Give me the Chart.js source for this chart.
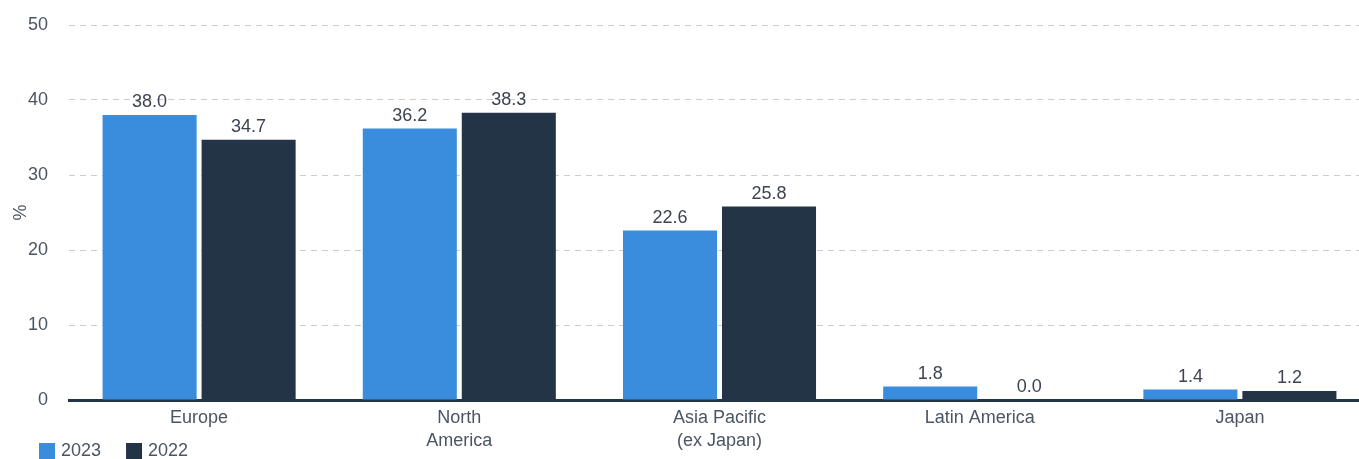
<!DOCTYPE html>
<html>
<head>
<meta charset="utf-8">
<script src="https://cdn.jsdelivr.net/npm/chart.js@4"></script>
<style>
  html, body { margin: 0; padding: 0; background: #fff; overflow: hidden; }
  #wrap { width: 1370px; height: 459px; position: relative; }
</style>
</head>
<body>
<div id="wrap"><canvas id="grafico"></canvas></div>
<script>
const categorias = [['Europe'], ['North', 'America'], ['Asia Pacific', '(ex Japan)'], ['Latin America'], ['Japan']];
const valores2023 = [38.0, 36.2, 22.6, 1.8, 1.4];
const valores2022 = [34.7, 38.3, 25.8, 0.0, 1.2];
const series = ['2023', '2022'];
const colores = ['#3a8ddd', '#243447'];
const colorTexto = '#4b5563';
const fuente = "'Liberation Sans', Arial, sans-serif";

// Etiquetas de valor encima de cada barra
const etiquetasValor = {
  id: 'etiquetasValor',
  afterDatasetsDraw(chart) {
    const ctx = chart.ctx;
    ctx.save();
    ctx.font = '18px ' + fuente;
    ctx.fillStyle = '#3d4451';
    ctx.textAlign = 'center';
    ctx.textBaseline = 'alphabetic';
    chart.data.datasets.forEach((ds, i) => {
      chart.getDatasetMeta(i).data.forEach((barra, j) => {
        ctx.fillText(ds.data[j].toFixed(1), barra.x, barra.y - 8);
      });
    });
    ctx.restore();
  }
};

// Leyenda propia abajo a la izquierda
const leyenda = {
  id: 'leyenda',
  afterDraw(chart) {
    const ctx = chart.ctx;
    ctx.save();
    ctx.font = '18px ' + fuente;
    ctx.textBaseline = 'middle';
    let x = 39;
    const y = chart.height - 8;
    chart.data.datasets.forEach((ds) => {
      ctx.fillStyle = ds.backgroundColor;
      ctx.fillRect(x, y - 8, 16, 16);
      ctx.fillStyle = colorTexto;
      ctx.fillText(ds.label, x + 22, y);
      x += 22 + ctx.measureText(ds.label).width + 25;
    });
    ctx.restore();
  }
};

const ctx = document.getElementById('grafico').getContext('2d');
new Chart(ctx, {
  type: 'bar',
  data: {
    labels: categorias,
    datasets: [
      { label: series[0], data: valores2023, backgroundColor: colores[0] },
      { label: series[1], data: valores2022, backgroundColor: colores[1] }
    ]
  },
  options: {
    responsive: true,
    maintainAspectRatio: false,
    animation: false,
    categoryPercentage: 0.761,
    barPercentage: 0.95,
    layout: { padding: { top: 25, right: 0, left: 10, bottom: 0 } },
    plugins: {
      legend: { display: false },
      tooltip: { enabled: false }
    },
    scales: {
      x: {
        grid: { display: false, drawTicks: false },
        border: { display: true, color: '#243447', width: 3 },
        ticks: { color: colorTexto, font: { family: fuente, size: 18, lineHeight: 1.3 }, padding: 6, maxRotation: 0 },
        afterFit: (escala) => { escala.height = 59; }
      },
      y: {
        min: 0,
        max: 50,
        ticks: { stepSize: 10, color: colorTexto, font: { family: fuente, size: 18 }, padding: 21 },
        grid: { color: '#cccccc', drawTicks: false },
        border: { display: false, dash: [6, 5] },
        title: { display: true, text: '%', color: colorTexto, font: { family: fuente, size: 18 }, padding: 0 },
        afterFit: (escala) => {
          escala.width = 59;
          escala.paddingTop = 0;
          escala.paddingBottom = 0;
        }
      }
    }
  },
  plugins: [etiquetasValor, leyenda]
});
</script>
</body>
</html>
